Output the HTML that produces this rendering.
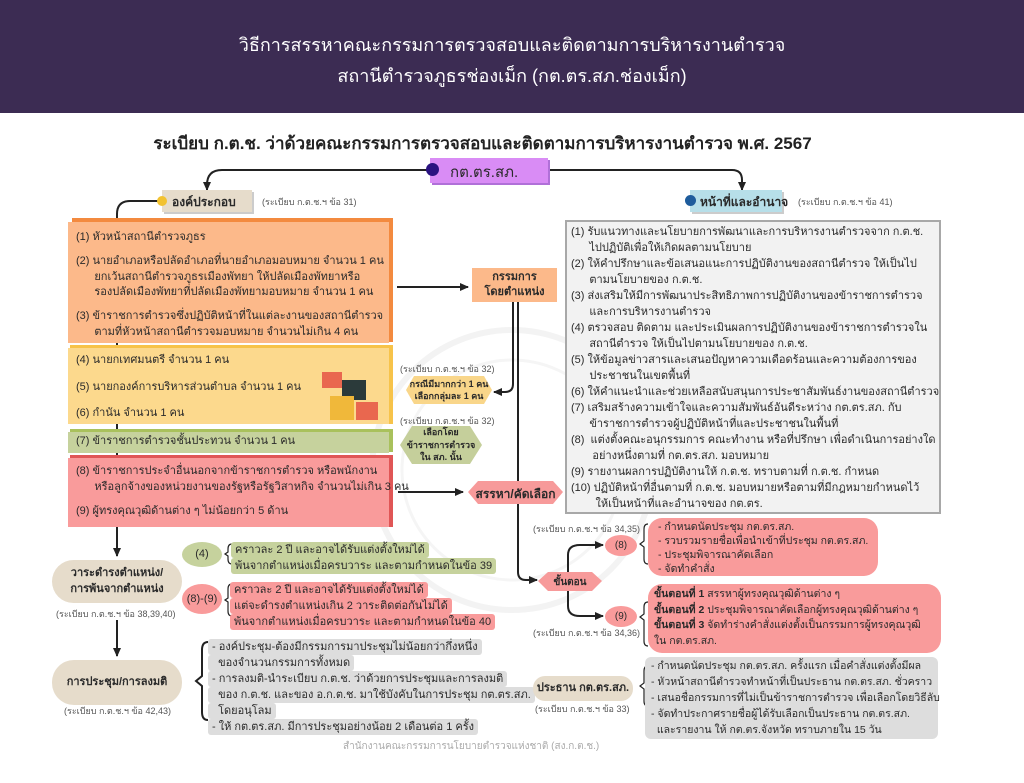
<!DOCTYPE html>
<html><head><meta charset="utf-8">
<style>
*{margin:0;padding:0;box-sizing:border-box}
body{width:1024px;height:783px;background:#fff;position:relative;overflow:hidden;font-family:"Liberation Sans","Noto Sans CJK SC",sans-serif;color:#2a2a2a}
.a{position:absolute;white-space:nowrap}
.t{font-size:11px;line-height:15.5px}
.c{font-size:9px;color:#555}
.b{font-weight:bold}
.hl{position:absolute;white-space:nowrap;font-size:11px;line-height:16px;padding:0 4px;border-radius:3px}
</style></head><body>
<div class="a" style="left:0;top:0;width:1024px;height:113px;background:#3c2c53"></div>
<div class="a" style="left:0;top:30px;width:1024px;text-align:center;color:#fff;font-size:18px;line-height:31px">วิธีการสรรหาคณะกรรมการตรวจสอบและติดตามการบริหารงานตำรวจ<br>สถานีตำรวจภูธรช่องเม็ก (กต.ตร.สภ.ช่องเม็ก)</div>
<div class="a b" style="left:0;top:130px;width:965px;text-align:center;font-size:17px;color:#222">ระเบียบ ก.ต.ช. ว่าด้วยคณะกรรมการตรวจสอบและติดตามการบริหารงานตำรวจ พ.ศ. 2567</div>

<svg class="a" style="left:0;top:0" width="1024" height="783">
<defs><marker id="ar" markerUnits="userSpaceOnUse" markerWidth="9" markerHeight="9" refX="8" refY="4.5" orient="auto"><path d="M0,0.5 L9,4.5 L0,8.5 z" fill="#222"/></marker></defs>
<circle cx="512" cy="470" r="140" fill="none" stroke="#f3f3f3" stroke-width="6"/>
<circle cx="512" cy="470" r="110" fill="none" stroke="#f5f5f5" stroke-width="3"/>
<g fill="none" stroke="#222" stroke-width="2">
<path d="M430,170 H222 Q207,170 207,185 V190" marker-end="url(#ar)"/>
<path d="M545,170 H732 Q742,170 742,180 V190" marker-end="url(#ar)"/>
<path d="M160,201 H130 Q117,201 117,214 V222"/>
<path d="M117,342 V556" marker-end="url(#ar)"/>
<path d="M117,620 V656" marker-end="url(#ar)"/>
<path d="M397,287 H468" marker-end="url(#ar)"/>
<path d="M513,302 V384 Q513,392 505,392 H494" marker-end="url(#ar)"/>
<path d="M518,302 V572 Q518,580 526,580 H537" marker-end="url(#ar)"/>
<path d="M398,492 H463" marker-end="url(#ar)"/>
<path d="M568,581 V555 Q568,545 580,545 H603" marker-end="url(#ar)"/>
<path d="M568,581 V606 Q568,616 580,616 H603" marker-end="url(#ar)"/>
<path d="M232,544 q-4,0 -4,5 v3 l-3,2 l3,2 v3 q0,5 4,5" stroke-width="1.2"/>
<path d="M232,584 q-4,0 -4,5 v9 l-3,2 l3,2 v9 q0,5 4,5" stroke-width="1.2"/>
<path d="M208,642 q-6,0 -6,8 v26 l-6,5 l6,5 v26 q0,8 6,8" stroke-width="2"/>
<path d="M648,524 q-4,0 -4,5 v12 l-4,3 l4,3 v12 q0,5 4,5" stroke-width="1.2"/>
<path d="M648,602 q-4,0 -4,5 v7 l-4,3 l4,3 v21 q0,5 4,5" stroke-width="1.2"/>
<path d="M648,666 q-4,0 -4,5 v12 l-4,3 l4,3 v12 q0,5 4,5" stroke-width="1.2"/>
</g>
<polygon points="406,390 414,376 484,376 492,390 484,404 414,404" fill="#f9d68a"/>
<polygon points="400,445 412,426 470,426 482,445 470,464 412,464" fill="#c5cf9b"/>
<polygon points="468,492 478,481 553,481 563,492 553,504 478,504" fill="#f79a9a"/>
<polygon points="538,581 548,572 592,572 602,581 592,591 548,591" fill="#f79a9a"/>
</svg>

<div class="a" style="left:430px;top:158px;width:118px;height:25px;background:#d98cf5;box-shadow:2px 2px 0 #b070d8"></div>
<div class="a" style="left:426px;top:163px;width:13px;height:13px;border-radius:50%;background:#2a1280"></div>
<div class="a" style="left:450px;top:160px;font-size:15px">กต.ตร.สภ.</div>

<div class="a" style="left:162px;top:190px;width:90px;height:22px;background:#e6dccb;box-shadow:2px 2px 0 #ccc"></div>
<div class="a" style="left:157px;top:196px;width:10px;height:10px;border-radius:50%;background:#f2c230"></div>
<div class="a b" style="left:172px;top:193px;font-size:12px">องค์ประกอบ</div>
<div class="a c" style="left:262px;top:195px">(ระเบียบ ก.ต.ช.ฯ ข้อ 31)</div>

<div class="a" style="left:690px;top:190px;width:92px;height:22px;background:#b7dfe9;box-shadow:2px 2px 0 #ccc"></div>
<div class="a" style="left:685px;top:195px;width:11px;height:11px;border-radius:50%;background:#1e5c9c"></div>
<div class="a b" style="left:700px;top:193px;font-size:12px">หน้าที่และอำนาจ</div>
<div class="a c" style="left:798px;top:195px">(ระเบียบ ก.ต.ช.ฯ ข้อ 41)</div>

<div class="a" style="left:72px;top:218px;width:321px;height:124px;background:#f38a3f"></div>
<div class="a" style="left:68px;top:222px;width:321px;height:121px;background:#fcb98a"></div>
<div class="a t" style="left:76px;top:230px">(1) หัวหน้าสถานีตำรวจภูธร</div>
<div class="a t" style="left:76px;top:254px">(2) นายอำเภอหรือปลัดอำเภอที่นายอำเภอมอบหมาย จำนวน 1 คน<br>&nbsp;&nbsp;&nbsp;&nbsp;&nbsp;&nbsp;ยกเว้นสถานีตำรวจภูธรเมืองพัทยา ให้ปลัดเมืองพัทยาหรือ<br>&nbsp;&nbsp;&nbsp;&nbsp;&nbsp;&nbsp;รองปลัดเมืองพัทยาที่ปลัดเมืองพัทยามอบหมาย จำนวน 1 คน</div>
<div class="a t" style="left:76px;top:309px">(3) ข้าราชการตำรวจซึ่งปฏิบัติหน้าที่ในแต่ละงานของสถานีตำรวจ<br>&nbsp;&nbsp;&nbsp;&nbsp;&nbsp;&nbsp;ตามที่หัวหน้าสถานีตำรวจมอบหมาย จำนวนไม่เกิน 4 คน</div>

<div class="a" style="left:70px;top:345px;width:323px;height:79px;background:#f7c34a"></div>
<div class="a" style="left:68px;top:348px;width:321px;height:76px;background:#fcd98d"></div>
<div class="a t" style="left:76px;top:353px">(4) นายกเทศมนตรี จำนวน 1 คน</div>
<div class="a t" style="left:76px;top:380px">(5) นายกองค์การบริหารส่วนตำบล จำนวน 1 คน</div>
<div class="a t" style="left:76px;top:406px">(6) กำนัน จำนวน 1 คน</div>
<div class="a" style="left:322px;top:372px;width:20px;height:16px;background:#e9674f"></div>
<div class="a" style="left:342px;top:380px;width:24px;height:20px;background:#2b3a3a"></div>
<div class="a" style="left:330px;top:396px;width:24px;height:24px;background:#f0b83a"></div>
<div class="a" style="left:356px;top:402px;width:22px;height:18px;background:#e9674f"></div>

<div class="a" style="left:70px;top:429px;width:323px;height:23px;background:#a9c15c"></div>
<div class="a" style="left:68px;top:432px;width:321px;height:21px;background:#c6d29d"></div>
<div class="a t" style="left:76px;top:434px">(7) ข้าราชการตำรวจชั้นประทวน จำนวน 1 คน</div>

<div class="a" style="left:70px;top:455px;width:323px;height:72px;background:#e05656"></div>
<div class="a" style="left:68px;top:458px;width:321px;height:69px;background:#f99b9b"></div>
<div class="a t" style="left:76px;top:464px">(8) ข้าราชการประจำอื่นนอกจากข้าราชการตำรวจ หรือพนักงาน<br>&nbsp;&nbsp;&nbsp;&nbsp;&nbsp;&nbsp;หรือลูกจ้างของหน่วยงานของรัฐหรือรัฐวิสาหกิจ จำนวนไม่เกิน 3 คน</div>
<div class="a t" style="left:76px;top:504px">(9) ผู้ทรงคุณวุฒิด้านต่าง ๆ ไม่น้อยกว่า 5 ด้าน</div>

<div class="a b" style="left:472px;top:268px;width:85px;height:34px;background:#fcb98a;font-size:11px;line-height:15px;text-align:center;padding-top:2px">กรรมการ<br>โดยตำแหน่ง</div>
<div class="a c" style="left:400px;top:362px">(ระเบียบ ก.ต.ช.ฯ ข้อ 32)</div>
<div class="a b" style="left:406px;top:378px;width:86px;text-align:center;font-size:9px;line-height:12px">กรณีมีมากกว่า 1 คน<br>เลือกกลุ่มละ 1 คน</div>
<div class="a c" style="left:400px;top:414px">(ระเบียบ ก.ต.ช.ฯ ข้อ 32)</div>
<div class="a b" style="left:400px;top:426px;width:82px;text-align:center;font-size:9px;line-height:12.5px">เลือกโดย<br>ข้าราชการตำรวจ<br>ใน สภ. นั้น</div>
<div class="a b" style="left:468px;top:485px;width:95px;text-align:center;font-size:12px">สรรหา/คัดเลือก</div>
<div class="a b" style="left:538px;top:575px;width:64px;text-align:center;font-size:10px">ขั้นตอน</div>

<div class="a" style="left:565px;top:220px;width:376px;height:294px;background:#f2f2f2;border:2px solid #a8a8a8"></div>
<div class="a" style="left:571px;top:224px;font-size:11px;line-height:16px;white-space:pre">(1) รับแนวทางและนโยบายการพัฒนาและการบริหารงานตำรวจจาก ก.ต.ช.
      ไปปฏิบัติเพื่อให้เกิดผลตามนโยบาย
(2) ให้คำปรึกษาและข้อเสนอแนะการปฏิบัติงานของสถานีตำรวจ ให้เป็นไป
      ตามนโยบายของ ก.ต.ช.
(3) ส่งเสริมให้มีการพัฒนาประสิทธิภาพการปฏิบัติงานของข้าราชการตำรวจ
      และการบริหารงานตำรวจ
(4) ตรวจสอบ ติดตาม และประเมินผลการปฏิบัติงานของข้าราชการตำรวจใน
      สถานีตำรวจ ให้เป็นไปตามนโยบายของ ก.ต.ช.
(5) ให้ข้อมูลข่าวสารและเสนอปัญหาความเดือดร้อนและความต้องการของ
      ประชาชนในเขตพื้นที่
(6) ให้คำแนะนำและช่วยเหลือสนับสนุนการประชาสัมพันธ์งานของสถานีตำรวจ
(7) เสริมสร้างความเข้าใจและความสัมพันธ์อันดีระหว่าง กต.ตร.สภ. กับ
      ข้าราชการตำรวจผู้ปฏิบัติหน้าที่และประชาชนในพื้นที่
(8)  แต่งตั้งคณะอนุกรรมการ คณะทำงาน หรือที่ปรึกษา เพื่อดำเนินการอย่างใด
       อย่างหนึ่งตามที่ กต.ตร.สภ. มอบหมาย
(9) รายงานผลการปฏิบัติงานให้ ก.ต.ช. ทราบตามที่ ก.ต.ช. กำหนด
(10) ปฏิบัติหน้าที่อื่นตามที่ ก.ต.ช. มอบหมายหรือตามที่มีกฎหมายกำหนดไว้
        ให้เป็นหน้าที่และอำนาจของ กต.ตร.</div>

<div class="a b" style="left:52px;top:560px;width:130px;height:43px;border-radius:22px;background:#e6dccb;text-align:center;font-size:11px;line-height:16px;padding-top:5px">วาระดำรงตำแหน่ง/<br>การพ้นจากตำแหน่ง</div>
<div class="a c" style="left:56px;top:607px">(ระเบียบ ก.ต.ช.ฯ ข้อ 38,39,40)</div>
<div class="a b" style="left:52px;top:660px;width:130px;height:45px;border-radius:22px;background:#e6dccb;text-align:center;font-size:11px;line-height:45px">การประชุม/การลงมติ</div>
<div class="a c" style="left:64px;top:704px">(ระเบียบ ก.ต.ช.ฯ ข้อ 42,43)</div>

<div class="a" style="left:182px;top:542px;width:40px;height:25px;border-radius:50%;background:#c6d29d;text-align:center;font-size:11px;line-height:25px">(4)</div>
<div class="hl" style="left:231px;top:542px;background:#c6d29d">คราวละ 2 ปี และอาจได้รับแต่งตั้งใหม่ได้</div>
<div class="hl" style="left:231px;top:558px;background:#c6d29d">พ้นจากตำแหน่งเมื่อครบวาระ และตามกำหนดในข้อ 39</div>
<div class="a" style="left:182px;top:584px;width:40px;height:30px;border-radius:50%;background:#f99b9b;text-align:center;font-size:11px;line-height:30px">(8)-(9)</div>
<div class="hl" style="left:230px;top:582px;background:#f99b9b">คราวละ 2 ปี และอาจได้รับแต่งตั้งใหม่ได้</div>
<div class="hl" style="left:230px;top:598px;background:#f99b9b">แต่จะดำรงตำแหน่งเกิน 2 วาระติดต่อกันไม่ได้</div>
<div class="hl" style="left:230px;top:614px;background:#f99b9b">พ้นจากตำแหน่งเมื่อครบวาระ และตามกำหนดในข้อ 40</div>

<div class="hl" style="left:208px;top:639px;background:#ddd">- องค์ประชุม-ต้องมีกรรมการมาประชุมไม่น้อยกว่ากึ่งหนึ่ง</div>
<div class="hl" style="left:208px;top:655px;background:#ddd">&nbsp;&nbsp;ของจำนวนกรรมการทั้งหมด</div>
<div class="hl" style="left:208px;top:671px;background:#ddd">- การลงมติ-นำระเบียบ ก.ต.ช. ว่าด้วยการประชุมและการลงมติ</div>
<div class="hl" style="left:208px;top:687px;background:#ddd">&nbsp;&nbsp;ของ ก.ต.ช. และของ อ.ก.ต.ช. มาใช้บังคับในการประชุม กต.ตร.สภ.</div>
<div class="hl" style="left:208px;top:703px;background:#ddd">&nbsp;&nbsp;โดยอนุโลม</div>
<div class="hl" style="left:208px;top:719px;background:#ddd">- ให้ กต.ตร.สภ. มีการประชุมอย่างน้อย 2 เดือนต่อ 1 ครั้ง</div>
<div class="a" style="left:343px;top:739px;font-size:10px;color:#aaa">สำนักงานคณะกรรมการนโยบายตำรวจแห่งชาติ (สง.ก.ต.ช.)</div>

<div class="a c" style="left:533px;top:522px">(ระเบียบ ก.ต.ช.ฯ ข้อ 34,35)</div>
<div class="a c" style="left:533px;top:626px">(ระเบียบ ก.ต.ช.ฯ ข้อ 34,36)</div>
<div class="a" style="left:605px;top:535px;width:32px;height:21px;border-radius:50%;background:#f99b9b;text-align:center;font-size:10px;line-height:21px">(8)</div>
<div class="a" style="left:605px;top:606px;width:32px;height:21px;border-radius:50%;background:#f99b9b;text-align:center;font-size:10px;line-height:21px">(9)</div>
<div class="a" style="left:648px;top:518px;width:230px;height:58px;border-radius:14px;background:#f99b9b;font-size:10.5px;line-height:14px;padding:2px 0 0 10px">- กำหนดนัดประชุม กต.ตร.สภ.<br>- รวบรวมรายชื่อเพื่อนำเข้าที่ประชุม กต.ตร.สภ.<br>- ประชุมพิจารณาคัดเลือก<br>- จัดทำคำสั่ง</div>
<div class="a" style="left:648px;top:584px;width:293px;height:69px;border-radius:14px;background:#f99b9b;font-size:10.5px;line-height:15.5px;padding:3px 0 0 6px"><b>ขั้นตอนที่ 1</b> สรรหาผู้ทรงคุณวุฒิด้านต่าง ๆ<br><b>ขั้นตอนที่ 2</b> ประชุมพิจารณาคัดเลือกผู้ทรงคุณวุฒิด้านต่าง ๆ<br><b>ขั้นตอนที่ 3</b> จัดทำร่างคำสั่งแต่งตั้งเป็นกรรมการผู้ทรงคุณวุฒิ<br>ใน กต.ตร.สภ.</div>

<div class="a b" style="left:533px;top:676px;width:100px;height:25px;border-radius:12px;background:#e6dccb;text-align:center;font-size:11px;line-height:25px">ประธาน กต.ตร.สภ.</div>
<div class="a c" style="left:535px;top:702px">(ระเบียบ ก.ต.ช.ฯ ข้อ 33)</div>
<div class="a" style="left:645px;top:657px;width:293px;height:82px;border-radius:6px;background:#ddd;font-size:10.5px;line-height:16px;padding:1px 0 0 6px">- กำหนดนัดประชุม กต.ตร.สภ. ครั้งแรก เมื่อคำสั่งแต่งตั้งมีผล<br>- หัวหน้าสถานีตำรวจทำหน้าที่เป็นประธาน กต.ตร.สภ. ชั่วคราว<br>- เสนอชื่อกรรมการที่ไม่เป็นข้าราชการตำรวจ เพื่อเลือกโดยวิธีลับ<br>- จัดทำประกาศรายชื่อผู้ได้รับเลือกเป็นประธาน กต.ตร.สภ.<br>&nbsp;&nbsp;และรายงาน ให้ กต.ตร.จังหวัด ทราบภายใน 15 วัน</div>
</body></html>
